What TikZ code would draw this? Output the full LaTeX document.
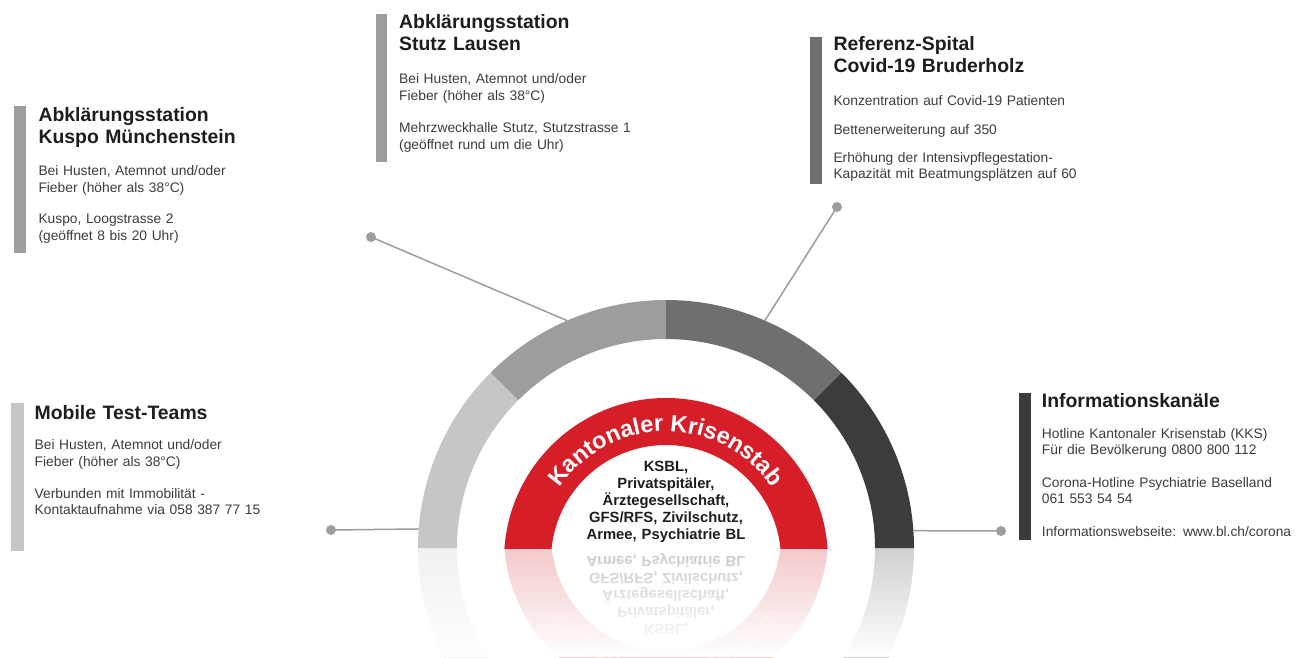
\documentclass[tikz,border=0pt]{standalone}
\usepackage{fontspec}
\setmainfont{Liberation Sans}
\usetikzlibrary{calc,decorations.text}

\definecolor{ringA}{HTML}{C6C6C6}
\definecolor{ringB}{HTML}{9D9D9D}
\definecolor{ringC}{HTML}{706F6F}
\definecolor{ringD}{HTML}{3C3C3B}
\definecolor{kksred}{HTML}{D51E28}
\definecolor{bodygray}{HTML}{3C3C3B}
\definecolor{titleblack}{HTML}{1D1D1B}
\definecolor{linkgray}{HTML}{9D9D9D}

\tikzset{
  boxtitle/.style={anchor=base west, inner sep=0pt, text width=330pt, align=left,
    font=\bfseries\fontsize{19.4}{22}\selectfont, text=titleblack},
  boxbody/.style={anchor=base west, inner sep=0pt, text width=330pt, align=left,
    font=\fontsize{13.8}{16.5}\selectfont, text=bodygray},
  linkdot/.style={circle, fill=linkgray, inner sep=0pt, minimum size=10pt},
  linkline/.style={draw=linkgray, line width=1.5pt},
  crewtext/.style={anchor=base, inner sep=0pt, text width=240pt, align=center,
    font=\bfseries\fontsize{14.8}{16.9}\selectfont, text=titleblack}
}

\newcommand{\krisencore}[1]{%
  \fill[ringA] ($(C)+(180:248)$) arc[start angle=180,end angle=135,radius=248]
     -- ($(C)+(135:209)$) arc[start angle=135,end angle=180,radius=209] -- cycle;
  \fill[ringB] ($(C)+(135:248)$) arc[start angle=135,end angle=90,radius=248]
     -- ($(C)+(90:209)$) arc[start angle=90,end angle=135,radius=209] -- cycle;
  \fill[ringC] ($(C)+(90:248)$) arc[start angle=90,end angle=45,radius=248]
     -- ($(C)+(45:209)$) arc[start angle=45,end angle=90,radius=209] -- cycle;
  \fill[ringD] ($(C)+(45:248)$) arc[start angle=45,end angle=0,radius=248]
     -- ($(C)+(0:209)$) arc[start angle=0,end angle=45,radius=209] -- cycle;
  \begin{scope}
    \clip (400,109) rectangle (930,420);
    \fill[kksred, even odd rule] (R) circle[radius=162] (R) circle[radius=115];
  \end{scope}
  \path[decorate, decoration={text along path, text align=center, text color=white,
      text={|\bfseries\fontsize{23.5}{23.5}\selectfont|Kantonaler Krisenstab}}]
      ($(R)+(180:128.5)$) arc[start angle=180,end angle=0,radius=128.5];
  \node[crewtext] (crew#1) at (666,185.5)
    {KSBL,\\Privatspitäler,\\Ärztegesellschaft,\\GFS/RFS, Zivilschutz,\\Armee, Psychiatrie BL};
}

\begin{document}
\begin{tikzpicture}[x=1pt,y=1pt]
\useasboundingbox (0,0) rectangle (1311,657);
\fill[white] (0,0) rectangle (1311,657);
\coordinate (C) at (666,109);
\coordinate (R) at (666,97);

% reflection (mirrored, faint, fading out downwards)
\begin{scope}
  \clip (400,0) rectangle (930,109);
  \begin{scope}[opacity=0.24, transform canvas={shift={(0,218)}, yscale=-1}]
    \krisencore{mirror}
  \end{scope}
  \foreach \i in {0,...,39} {
    \pgfmathsetmacro{\op}{(\i+0.5)/40}
    \fill[white, opacity=\op] (400,{109-\i*2.725}) rectangle (930,{109-(\i+1)*2.725});
  }
\end{scope}

% main semicircle
\krisencore{}

% bars
\fill[ringB] (13.5,403.5) rectangle (26,551);
\fill[ringB] (375.5,495) rectangle (387,643);
\fill[ringC] (809.5,472.5) rectangle (821.5,620);
\fill[ringA] (11,106.5) rectangle (23.5,254);
\fill[ringD] (1018.5,117) rectangle (1030.5,264.5);

% Kuspo
\node[boxtitle] (kuspo-title) at (38.3,535) {Abklärungsstation\\Kuspo Münchenstein};
\node[boxbody] (kuspo-b1) at (38.3,481) {Bei Husten, Atemnot und/oder\\Fieber (höher als 38°C)};
\node[boxbody] (kuspo-b2) at (38.3,433) {Kuspo, Loogstrasse 2\\(geöffnet 8 bis 20 Uhr)};

% Stutz
\node[boxtitle] (stutz-title) at (399,628) {Abklärungsstation\\Stutz Lausen};
\node[boxbody] (stutz-b1) at (399,573) {Bei Husten, Atemnot und/oder\\Fieber (höher als 38°C)};
\node[boxbody] (stutz-b2) at (399,524) {Mehrzweckhalle Stutz, Stutzstrasse 1\\(geöffnet rund um die Uhr)};

% Referenz
\node[boxtitle] (ref-title) at (833.3,606) {Referenz-Spital\\Covid-19 Bruderholz};
\node[boxbody] (ref-b1) at (833.3,551) {Konzentration auf Covid-19 Patienten};
\node[boxbody] (ref-b2) at (833.3,522) {Bettenerweiterung auf 350};
\node[boxbody] (ref-b3) at (833.3,494.5) {Erhöhung der Intensivpflegestation-\\Kapazität mit Beatmungsplätzen auf 60};

% Mobile
\node[boxtitle] (mob-title) at (34.5,238) {Mobile Test-Teams};
\node[boxbody] (mob-b1) at (34.5,207.5) {Bei Husten, Atemnot und/oder\\Fieber (höher als 38°C)};
\node[boxbody] (mob-b2) at (34.5,159) {Verbunden mit Immobilität -\\Kontaktaufnahme via 058 387 77 15};

% Info
\node[boxtitle] (info-title) at (1041.7,250) {Informationskanäle};
\node[boxbody] (info-b1) at (1041.7,219) {Hotline Kantonaler Krisenstab (KKS)\\Für die Bevölkerung 0800 800 112};
\node[boxbody] (info-b2) at (1041.7,170) {Corona-Hotline Psychiatrie Baselland\\061 553 54 54};
\node[boxbody] (info-b3) at (1041.7,121) {Informationswebseite: www.bl.ch/corona};

% connectors
\coordinate (ring-kuspo) at ($(C)+(113.5:248)$);
\coordinate (ring-ref) at ($(C)+(66.5:248)$);
\coordinate (ring-mob) at ($(C)+(175.6:248)$);
\coordinate (ring-info) at ($(C)+(4:248)$);
\node[linkdot] (dot-kuspo) at (371,420) {};
\node[linkdot] (dot-ref) at (837,450) {};
\node[linkdot] (dot-mob) at (331,127) {};
\node[linkdot] (dot-info) at (1001,126) {};
\draw[linkline] (dot-kuspo.center) -- (ring-kuspo);
\draw[linkline] (dot-ref.center) -- (ring-ref);
\draw[linkline] (dot-mob.center) -- (ring-mob);
\draw[linkline] (dot-info.center) -- (ring-info);
\end{tikzpicture}
\end{document}
